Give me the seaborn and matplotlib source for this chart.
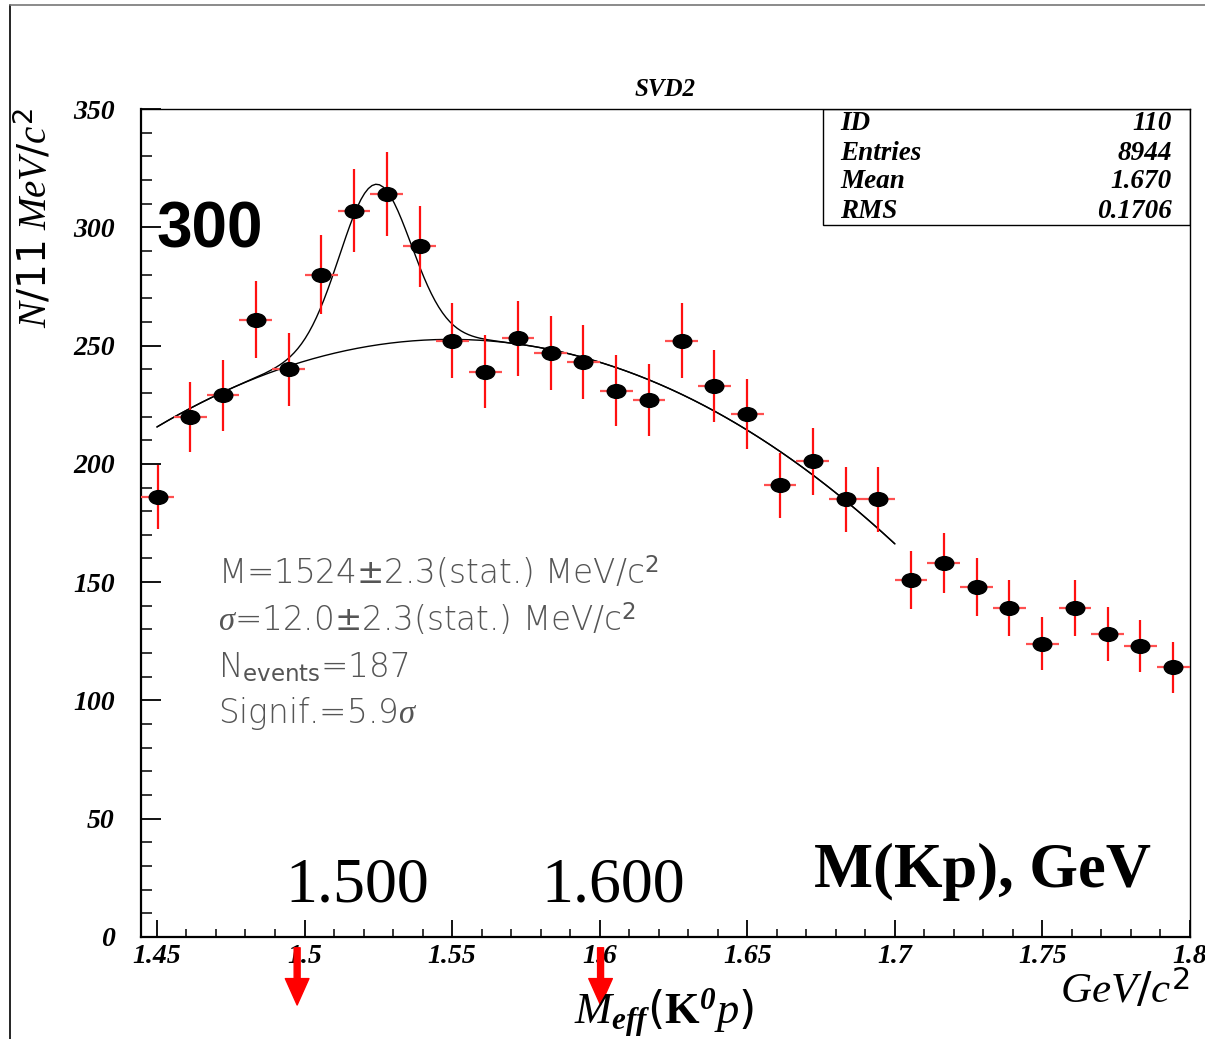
import numpy as np
import matplotlib
matplotlib.use("Agg")
import matplotlib.pyplot as plt
import seaborn as sns
from matplotlib.path import Path
from matplotlib.markers import MarkerStyle
from matplotlib.ticker import MultipleLocator, FuncFormatter
from matplotlib.lines import Line2D
from matplotlib.patches import Rectangle

# ---------------- data ----------------
bin_centers = [1.4502, 1.4613, 1.4724, 1.4835, 1.4946, 1.5057, 1.5168, 1.5279,
               1.5390, 1.5501, 1.5612, 1.5723, 1.5834, 1.5945, 1.6056, 1.6167,
               1.6278, 1.6389, 1.6500, 1.6611, 1.6722, 1.6833, 1.6944, 1.7055,
               1.7166, 1.7277, 1.7388, 1.7499, 1.7610, 1.7721, 1.7832, 1.7943]
counts = [186, 220, 229, 261, 240, 280, 307, 314, 292, 252, 239, 253, 247, 243, 231, 227,
          252, 233, 221, 191, 201, 185, 185, 151, 158, 148, 139, 124, 139, 128, 123, 114]
count_err = [13.6, 14.8, 15.1, 16.2, 15.5, 16.7, 17.5, 17.7, 17.1, 15.9, 15.5, 15.9, 15.7,
             15.6, 15.2, 15.1, 15.9, 15.3, 14.9, 13.8, 14.2, 13.6, 13.6, 12.3, 12.6, 12.2,
             11.8, 11.1, 11.8, 11.3, 11.1, 10.7]
half_bin = 0.00555

# fitted function: cubic background + gaussian peak
bg_x0 = 1.555
bg_coef = [252.5, -41.3, -3774.0, -318.0]
peak_mass = 1.524
peak_sigma = 0.012
peak_amp = 68.0
fit_range = (1.45, 1.70)

arrow_x = [1.4975, 1.6003]

stats_labels = ["ID", "Entries", "Mean", "RMS"]
stats_values = ["110", "8944", "1.670", "0.1706"]

fit_lines = [r"M=1524$\pm$2.3(stat.) MeV/c$^{2}$",
             r"$\sigma$=12.0$\pm$2.3(stat.) MeV/c$^{2}$",
             r"N$_{\mathsf{events}}$=187",
             r"Signif.=5.9$\sigma$"]

# ---------------- style ----------------
sns.set_style("white")
plt.rcParams["font.family"] = ["Liberation Serif", "DejaVu Sans"]
plt.rcParams["font.weight"] = "bold"
plt.rcParams["font.style"] = "italic"
plt.rcParams["text.color"] = "black"
plt.rcParams["xtick.color"] = "black"
plt.rcParams["ytick.color"] = "black"
plt.rcParams["axes.labelcolor"] = "black"
plt.rcParams["mathtext.fontset"] = "custom"
plt.rcParams["mathtext.rm"] = "DejaVu Sans:style=normal:weight=normal"
plt.rcParams["mathtext.sf"] = "DejaVu Sans:style=normal:weight=normal"
plt.rcParams["mathtext.it"] = "Liberation Serif:style=italic:weight=normal"
plt.rcParams["mathtext.bf"] = "Liberation Serif:style=normal:weight=bold"
plt.rcParams["mathtext.bfit"] = "Liberation Serif:style=italic:weight=bold"

W, H = 1205, 1039
fig = plt.figure(figsize=(W / 100, H / 100), dpi=100)
fig.patch.set_facecolor("white")
ax = fig.add_axes([141 / W, 1 - 937 / H, (1190 - 141) / W, (937 - 109) / H])
ax.set_facecolor("white")

def ftext(xp, yp, s, **kw):
    return fig.text(xp / W, 1 - yp / H, s, **kw)

# page frame
fig.add_artist(Line2D([10 / W, 10 / W], [0, 1 - 5 / H], transform=fig.transFigure,
                      color="black", lw=1.2))
fig.add_artist(Line2D([10 / W, 1], [1 - 5 / H, 1 - 5 / H], transform=fig.transFigure,
                      color="#777777", lw=1.2))

# fit curves
xs = np.linspace(fit_range[0], fit_range[1], 200)
u = xs - bg_x0
bg = sum(c * u ** i for i, c in enumerate(bg_coef))
total = bg + peak_amp * np.exp(-0.5 * ((xs - peak_mass) / peak_sigma) ** 2)
sns.lineplot(x=xs, y=bg, color="black", lw=1.0, ax=ax, estimator=None, zorder=2)
sns.lineplot(x=xs, y=total, color="black", lw=1.0, ax=ax, estimator=None, zorder=2)

# error bars
ax.errorbar(bin_centers, counts, xerr=half_bin, fmt="none", ecolor="#ff5050",
            elinewidth=1.6, capsize=0, zorder=3)
ax.errorbar(bin_centers, counts, yerr=count_err, fmt="none", ecolor="#ff1010",
            elinewidth=1.6, capsize=0, zorder=3)

# elliptical markers
circ = Path.unit_circle()
ell = Path(circ.vertices * np.array([1.0, 0.76]), circ.codes)
sns.scatterplot(x=bin_centers, y=counts, marker=MarkerStyle(ell), s=207,
                color="black", edgecolor="black", linewidth=0, ax=ax, zorder=4)

# axes
ax.set_xlim(1.4446, 1.8)
ax.set_ylim(0, 350)
ax.xaxis.set_major_locator(MultipleLocator(0.05))
ax.xaxis.set_minor_locator(MultipleLocator(0.01))
ax.yaxis.set_major_locator(MultipleLocator(50))
ax.yaxis.set_minor_locator(MultipleLocator(10))
ax.xaxis.set_major_formatter(FuncFormatter(lambda v, p: "%g" % round(v, 3)))
ax.yaxis.set_major_formatter(FuncFormatter(lambda v, p: "%d" % round(v)))
ax.tick_params(axis="y", which="major", direction="in", length=14.5, width=1.3,
               pad=19, left=True, right=False, colors="black", labelsize=20,
               labelfontfamily="Liberation Serif")
ax.tick_params(axis="y", which="minor", direction="in", length=8, width=1.1,
               left=True, right=False, colors="black")
ax.tick_params(axis="x", which="major", direction="in", length=12, width=1.3,
               pad=5, bottom=True, top=False, colors="black", labelsize=20,
               labelfontfamily="Liberation Serif")
ax.tick_params(axis="x", which="minor", direction="in", length=6, width=1.1,
               bottom=True, top=False, colors="black")
ax.set_xlabel("")
ax.set_ylabel("")
for side in ["left", "bottom"]:
    ax.spines[side].set_linewidth(1.6)
    ax.spines[side].set_color("black")
for side in ["top", "right"]:
    ax.spines[side].set_linewidth(1.0)
    ax.spines[side].set_color("black")

# stats box
x0b = (823 - 141) / (1190 - 141)
y0b = (937 - 225) / (937 - 109)
ax.add_patch(Rectangle((x0b, y0b), 1 - x0b, 1 - y0b, transform=ax.transAxes,
                       fill=False, edgecolor="black", lw=1.0, zorder=5))
for i, (lab, val) in enumerate(zip(stats_labels, stats_values)):
    yp = 124 + 29 * i
    ftext(840, yp, lab, ha="left", va="center", family="Liberation Serif",
          weight="bold", style="italic", size=19.5)
    ftext(1172, yp, val, ha="right", va="center", family="Liberation Serif",
          weight="bold", style="italic", size=19.5)

# title
ftext(665, 90, "SVD2", ha="center", va="center", family="Liberation Serif",
      weight="bold", style="italic", size=18)

# y label
ftext(35, 108, r"$\mathit{N/11\ MeV/c}^{\mathit{2}}$", rotation=90, ha="center",
      va="top", size=28)

# big annotations
ftext(210, 231, "300", ha="center", va="center", family="Liberation Sans",
      weight="bold", style="normal", size=46)
ftext(357, 887, "1.500", ha="center", va="center", family="Liberation Serif",
      weight="normal", style="normal", size=46)
ftext(613, 887, "1.600", ha="center", va="center", family="Liberation Serif",
      weight="normal", style="normal", size=46)
ftext(982, 872, "M(Kp), GeV", ha="center", va="center", family="Liberation Serif",
      weight="bold", style="normal", size=45)

# fit results text
for i, line in enumerate(fit_lines):
    ftext(218, 573 + 47 * i, line, ha="left", va="center", family="DejaVu Sans",
          size=23.5, color="#555555", weight="light", style="normal")

# x axis labels
ftext(664, 1013, r"$\mathit{M}_{\mathbfit{eff}}(\mathbf{K}^{\mathbfit{0}}\mathit{p})$",
      ha="center", va="center", size=32)
ftext(1190, 990, r"$\mathit{GeV/c}^{\mathit{2}}$", ha="right", va="center", size=31)

# red arrows below the axis
for xa in arrow_x:
    ax.annotate("", xy=(xa, -0.0821), xytext=(xa, -0.0130),
                xycoords=ax.get_xaxis_transform(), textcoords=ax.get_xaxis_transform(),
                arrowprops=dict(facecolor="red", edgecolor="red", width=4.3,
                                headwidth=17, headlength=19, shrink=0),
                annotation_clip=False, zorder=10)

fig.savefig("out.png", dpi=100, facecolor="white")
